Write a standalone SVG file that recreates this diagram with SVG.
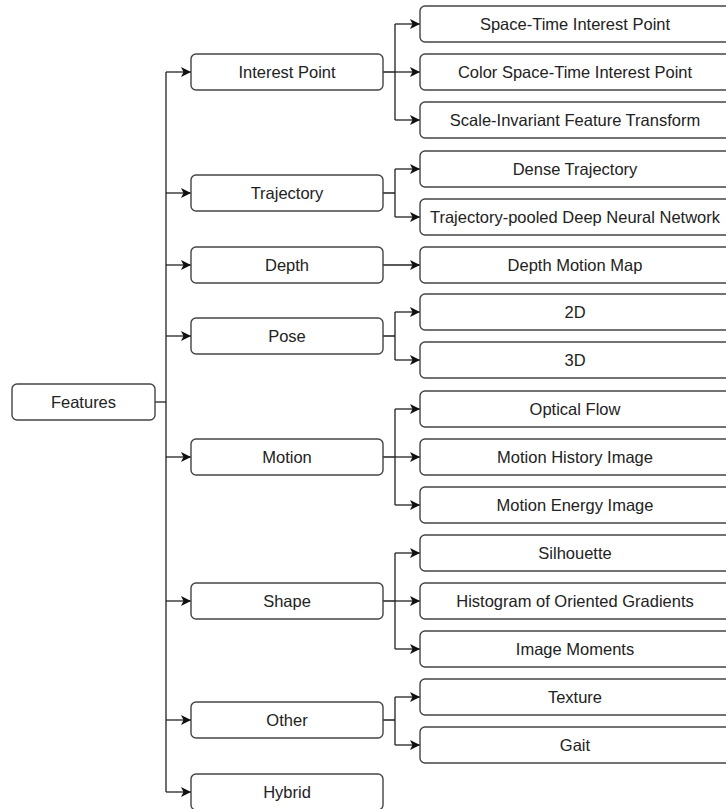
<svg xmlns="http://www.w3.org/2000/svg" width="726" height="809" viewBox="0 0 726 809">
  <style>
    .box rect { fill: #ffffff; stroke: #444444; stroke-width: 1.4; }
    .box text { font-family: "Liberation Sans", Arial, sans-serif; font-size: 16.5px; fill: #222222; text-anchor: middle; dominant-baseline: central; }
    .wire { fill: none; stroke: #222222; stroke-width: 1.3; }
    .arrow { fill: none; stroke: #222222; stroke-width: 1.3; marker-end: url(#head); }
  </style>
  <defs>
    <marker id="head" viewBox="0 0 10 10" refX="10" refY="5" markerWidth="10" markerHeight="10" markerUnits="userSpaceOnUse" orient="auto">
      <path d="M0,0 L10,5 L0,10 L2.5,5 Z" fill="#111111"/>
    </marker>
  </defs>
  <rect width="726" height="809" fill="#ffffff"/>

  <!-- connectors -->
  <g id="connectors">
    <!-- root trunk -->
    <path class="wire" d="M155,402 H166"/>
    <path class="wire" d="M166,72 V792"/>
    <path class="arrow" d="M166,72 H191"/>
    <path class="arrow" d="M166,193 H191"/>
    <path class="arrow" d="M166,265 H191"/>
    <path class="arrow" d="M166,336 H191"/>
    <path class="arrow" d="M166,457 H191"/>
    <path class="arrow" d="M166,601 H191"/>
    <path class="arrow" d="M166,720 H191"/>
    <path class="arrow" d="M166,792 H191"/>

    <!-- Interest Point -->
    <path class="wire" d="M383,72 H395 M395,24 V120"/>
    <path class="arrow" d="M395,24 H420"/>
    <path class="arrow" d="M395,72 H420"/>
    <path class="arrow" d="M395,120 H420"/>
    <!-- Trajectory -->
    <path class="wire" d="M383,193 H395 M395,169 V217"/>
    <path class="arrow" d="M395,169 H420"/>
    <path class="arrow" d="M395,217 H420"/>
    <!-- Depth -->
    <path class="arrow" d="M383,265 H420"/>
    <!-- Pose -->
    <path class="wire" d="M383,336 H395 M395,312 V360"/>
    <path class="arrow" d="M395,312 H420"/>
    <path class="arrow" d="M395,360 H420"/>
    <!-- Motion -->
    <path class="wire" d="M383,457 H395 M395,409 V505"/>
    <path class="arrow" d="M395,409 H420"/>
    <path class="arrow" d="M395,457 H420"/>
    <path class="arrow" d="M395,505 H420"/>
    <!-- Shape -->
    <path class="wire" d="M383,601 H395 M395,553 V649"/>
    <path class="arrow" d="M395,553 H420"/>
    <path class="arrow" d="M395,601 H420"/>
    <path class="arrow" d="M395,649 H420"/>
    <!-- Other -->
    <path class="wire" d="M383,720 H395 M395,697 V745"/>
    <path class="arrow" d="M395,697 H420"/>
    <path class="arrow" d="M395,745 H420"/>
  </g>

  <!-- root -->
  <g id="features" class="box"><rect x="12" y="384" width="143" height="36" rx="5"/><text x="83.5" y="402">Features</text></g>

  <!-- categories -->
  <g id="interest-point" class="box"><rect x="191" y="54" width="192" height="36" rx="5"/><text x="287" y="72">Interest Point</text></g>
  <g id="trajectory" class="box"><rect x="191" y="175" width="192" height="36" rx="5"/><text x="287" y="193">Trajectory</text></g>
  <g id="depth" class="box"><rect x="191" y="247" width="192" height="36" rx="5"/><text x="287" y="265">Depth</text></g>
  <g id="pose" class="box"><rect x="191" y="318" width="192" height="36" rx="5"/><text x="287" y="336">Pose</text></g>
  <g id="motion" class="box"><rect x="191" y="439" width="192" height="36" rx="5"/><text x="287" y="457">Motion</text></g>
  <g id="shape" class="box"><rect x="191" y="583" width="192" height="36" rx="5"/><text x="287" y="601">Shape</text></g>
  <g id="other" class="box"><rect x="191" y="702" width="192" height="36" rx="5"/><text x="287" y="720">Other</text></g>
  <g id="hybrid" class="box"><rect x="191" y="774" width="192" height="36" rx="5"/><text x="287" y="792">Hybrid</text></g>

  <!-- methods -->
  <g id="stip" class="box"><rect x="420" y="6" width="312" height="36" rx="5"/><text x="575" y="24">Space-Time Interest Point</text></g>
  <g id="color-stip" class="box"><rect x="420" y="54" width="312" height="36" rx="5"/><text x="575" y="72">Color Space-Time Interest Point</text></g>
  <g id="sift" class="box"><rect x="420" y="102" width="312" height="36" rx="5"/><text x="575" y="120">Scale-Invariant Feature Transform</text></g>
  <g id="dense-trajectory" class="box"><rect x="420" y="151" width="312" height="36" rx="5"/><text x="575" y="169">Dense Trajectory</text></g>
  <g id="tdd" class="box"><rect x="420" y="199" width="312" height="36" rx="5"/><text x="575" y="217">Trajectory-pooled Deep Neural Network</text></g>
  <g id="dmm" class="box"><rect x="420" y="247" width="312" height="36" rx="5"/><text x="575" y="265">Depth Motion Map</text></g>
  <g id="pose-2d" class="box"><rect x="420" y="294" width="312" height="36" rx="5"/><text x="575" y="312">2D</text></g>
  <g id="pose-3d" class="box"><rect x="420" y="342" width="312" height="36" rx="5"/><text x="575" y="360">3D</text></g>
  <g id="optical-flow" class="box"><rect x="420" y="391" width="312" height="36" rx="5"/><text x="575" y="409">Optical Flow</text></g>
  <g id="mhi" class="box"><rect x="420" y="439" width="312" height="36" rx="5"/><text x="575" y="457">Motion History Image</text></g>
  <g id="mei" class="box"><rect x="420" y="487" width="312" height="36" rx="5"/><text x="575" y="505">Motion Energy Image</text></g>
  <g id="silhouette" class="box"><rect x="420" y="535" width="312" height="36" rx="5"/><text x="575" y="553">Silhouette</text></g>
  <g id="hog" class="box"><rect x="420" y="583" width="312" height="36" rx="5"/><text x="575" y="601">Histogram of Oriented Gradients</text></g>
  <g id="image-moments" class="box"><rect x="420" y="631" width="312" height="36" rx="5"/><text x="575" y="649">Image Moments</text></g>
  <g id="texture" class="box"><rect x="420" y="679" width="312" height="36" rx="5"/><text x="575" y="697">Texture</text></g>
  <g id="gait" class="box"><rect x="420" y="727" width="312" height="36" rx="5"/><text x="575" y="745">Gait</text></g>
</svg>
